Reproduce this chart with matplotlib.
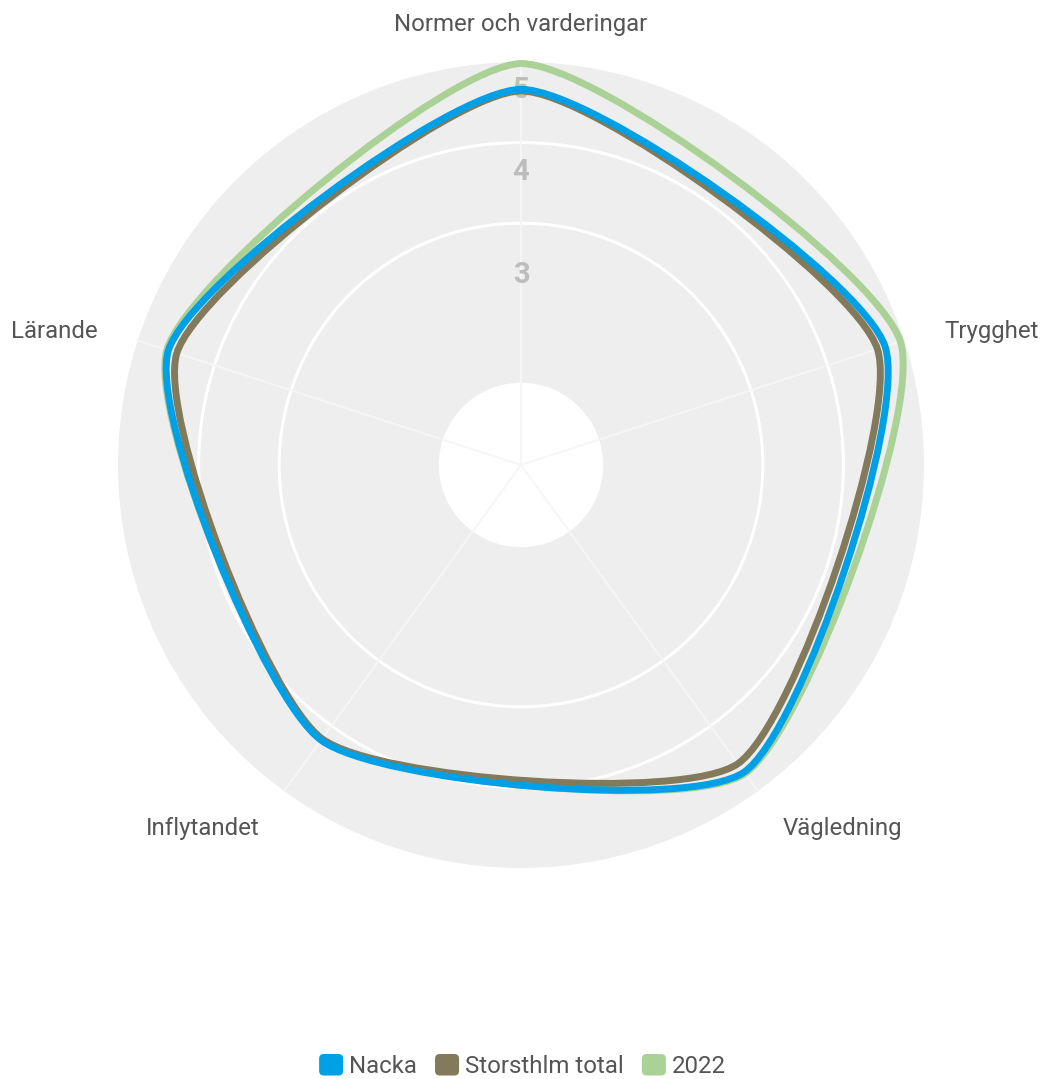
import numpy as np
import matplotlib.pyplot as plt
from matplotlib.path import Path
from matplotlib.patches import PathPatch, Circle, FancyBboxPatch, Patch
from matplotlib.legend_handler import HandlerPatch

plt.rcParams['font.family'] = ['Roboto', 'DejaVu Sans']

# data
categories = ['Normer och varderingar', 'Trygghet', 'Vägledning', 'Inflytandet', 'Lärande']
series_names = ['Nacka', 'Storsthlm total', '2022']
nacka = [4.66, 4.75, 4.71, 4.22, 4.60]
storsthlm = [4.64, 4.65, 4.58, 4.20, 4.49]
year_2022 = [4.98, 4.95, 4.73, 4.20, 4.62]
tick_values = [3, 4, 5]
tick_labels = ['3', '4', '5']

colors = ['#00A0E6', '#827A5A', '#AAD296']
r_max = 5.0
r_hole = 1.02
grid_values = [3, 4]
tick_label_r = [2.36, 3.64, 4.65]   # where the scale numbers sit

n = len(categories)
angles = np.deg2rad(90 - 360 / n * np.arange(n))


def smooth_path(vals, tension=0.2):
    vals = np.asarray(vals, dtype=float)
    pts = np.column_stack([vals * np.cos(angles), vals * np.sin(angles)])
    c_in, c_out = [], []
    for i in range(n):
        prev, cur, nxt = pts[i - 1], pts[i], pts[(i + 1) % n]
        d01 = np.hypot(*(cur - prev))
        d12 = np.hypot(*(nxt - cur))
        s01 = d01 / (d01 + d12)
        s12 = d12 / (d01 + d12)
        c_in.append(cur - tension * s01 * (nxt - prev))
        c_out.append(cur + tension * s12 * (nxt - prev))
    verts = [pts[0]]
    codes = [Path.MOVETO]
    for i in range(n):
        j = (i + 1) % n
        verts += [c_out[i], c_in[j], pts[j]]
        codes += [Path.CURVE4] * 3
    verts.append(pts[0])
    codes.append(Path.CLOSEPOLY)
    return Path(verts, codes)


fig = plt.figure(figsize=(10.45, 10.79), dpi=100)
ax = fig.add_axes([0, 0, 1, 1])
ax.set_xlim(-6.464, 6.501)
ax.set_ylim(-7.618, 5.769)
ax.axis('off')

# background disc, inner hole, grid circles
ax.add_patch(Circle((0, 0), r_max, facecolor='#EEEEEE', edgecolor='none', zorder=0))
ax.add_patch(Circle((0, 0), r_hole, facecolor='white', edgecolor='none', zorder=1))
for g in grid_values:
    ax.add_patch(Circle((0, 0), g, facecolor='none', edgecolor='white', lw=2.2, zorder=2))
for a in angles:
    ax.plot([0, r_max * np.cos(a)], [0, r_max * np.sin(a)], color='#F6F6F6', lw=1.4, zorder=2)

for r, lab in zip(tick_label_r, tick_labels):
    ax.text(0, r, lab, ha='center', va='center', fontsize=21, fontweight='bold',
            color='#BDBDBD', zorder=3)

# series, first one on top
series = [nacka, storsthlm, year_2022]
for k in reversed(range(len(series))):
    ax.add_patch(PathPatch(smooth_path(series[k]), facecolor='none', edgecolor=colors[k],
                           lw=5, joinstyle='round', zorder=4 + (len(series) - k)))

# category labels
label_r = 5.52
for a, cat in zip(angles, categories):
    x, y = label_r * np.cos(a), label_r * np.sin(a) - 0.05
    c = np.cos(a)
    if abs(c) < 0.01:
        ha = 'center'
    elif c > 0:
        ha = 'left'
    else:
        ha = 'right'
    ax.text(x, y, cat, ha=ha, va='center', fontsize=17.3, color='#555555')


def rounded_box(legend, orig_handle, xdescent, ydescent, width, height, fontsize):
    return FancyBboxPatch((-xdescent, -ydescent), width, height,
                          boxstyle='round,pad=0,rounding_size=%f' % (height * 0.22),
                          facecolor=orig_handle.get_facecolor(), edgecolor='none')


handles = [Patch(facecolor=c) for c in colors]
fig.legend(handles, series_names, loc='center', bbox_to_anchor=(0.5, 1 - 1066 / 1079),
           ncol=3, frameon=False, fontsize=17.3, labelcolor='#555555',
           handlelength=1.0, handleheight=1.0, handletextpad=0.25, columnspacing=0.75,
           handler_map={Patch: HandlerPatch(patch_func=rounded_box)})

fig.savefig('out.png', dpi=100)
